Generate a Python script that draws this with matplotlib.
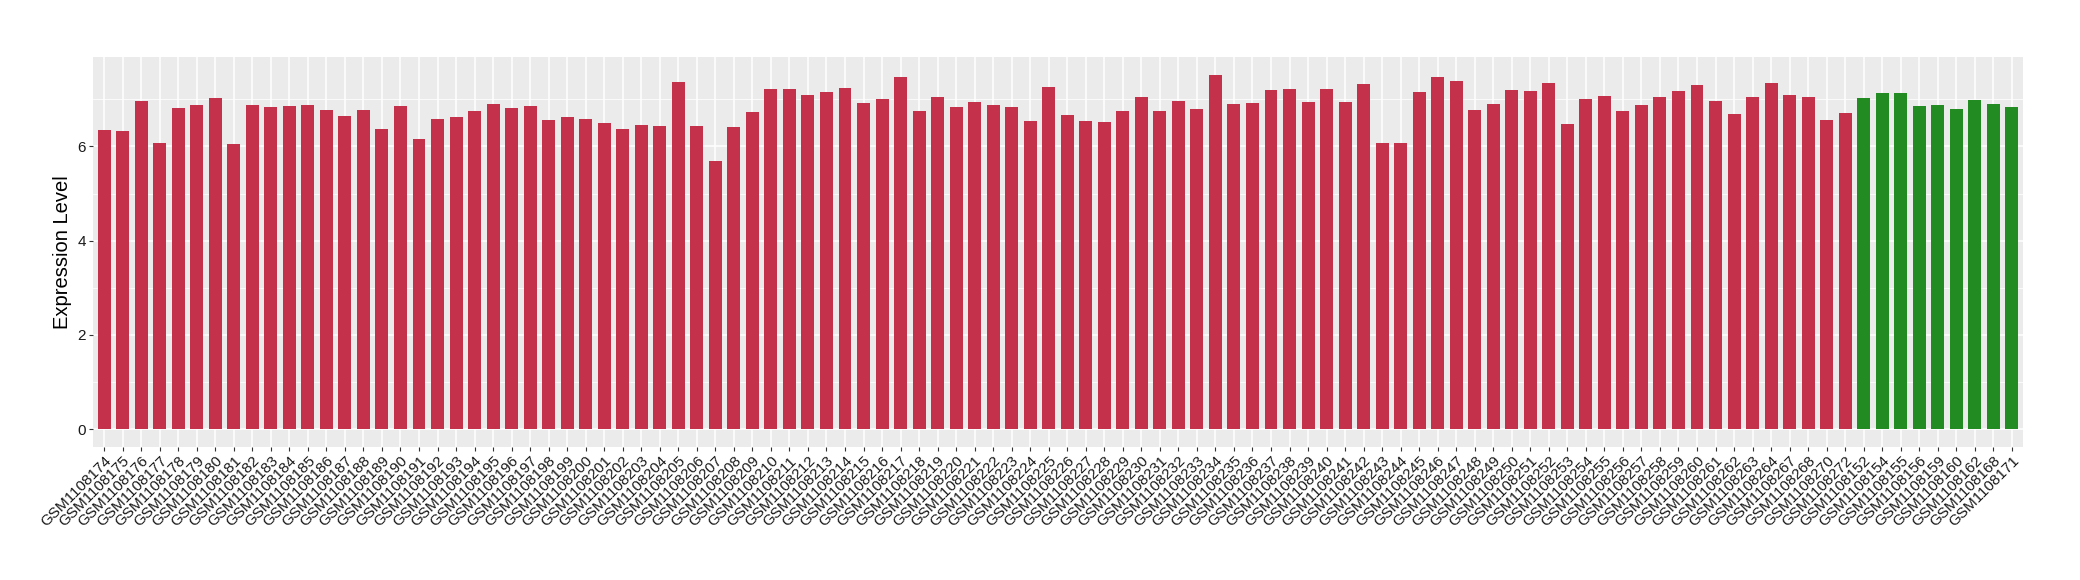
import matplotlib
matplotlib.use("Agg")
import matplotlib.pyplot as plt
import numpy as np

plt.rcParams['font.family'] = ['Liberation Sans', 'DejaVu Sans']

red_samples = [f"GSM1108{n}" for n in list(range(174, 265)) + [267, 268, 270, 272]]
green_samples = ["GSM1108152", "GSM1108154", "GSM1108155", "GSM1108156", "GSM1108159",
                 "GSM1108160", "GSM1108162", "GSM1108168", "GSM1108171"]

red_values = [
    6.35, 6.33, 6.97, 6.08, 6.82, 6.88, 7.03, 6.06, 6.88, 6.84,
    6.86, 6.88, 6.78, 6.65, 6.78, 6.37, 6.86, 6.16, 6.59, 6.63,
    6.76, 6.90, 6.82, 6.86, 6.56, 6.63, 6.59, 6.50, 6.37, 6.46,
    6.44, 7.37, 6.44, 5.68, 6.42, 6.73, 7.22, 7.22, 7.09, 7.16,
    7.24, 6.92, 7.01, 7.48, 6.76, 7.05, 6.84, 6.95, 6.88, 6.84,
    6.54, 7.26, 6.67, 6.54, 6.52, 6.76, 7.05, 6.76, 6.97, 6.80,
    7.52, 6.90, 6.92, 7.20, 7.22, 6.95, 7.22, 6.95, 7.33, 6.08,
    6.08, 7.16, 7.48, 7.39, 6.78, 6.90, 7.20, 7.18, 7.35, 6.48,
    7.01, 7.07, 6.76, 6.88, 7.05, 7.18, 7.31, 6.97, 6.69, 7.05,
    7.35, 7.09, 7.05, 6.56, 6.71,
]
green_values = [7.03, 7.14, 7.14, 6.86, 6.88, 6.80, 6.99, 6.90, 6.84]

RED = "#C3314A"
GREEN = "#228B22"

samples = red_samples + green_samples
values = red_values + green_values
colors = [RED] * len(red_values) + [GREEN] * len(green_values)

fig = plt.figure(figsize=(20.8, 5.8), dpi=100)
ax = fig.add_axes([93 / 2080, 1 - 447 / 580, (2023 - 93) / 2080, (447 - 57) / 580])

x = np.arange(len(samples))
ax.set_facecolor("#EBEBEB")
ax.bar(x, values, width=0.7, color=colors, zorder=3)

ymax = max(values)
ax.set_xlim(-0.6, len(samples) - 0.4)
ax.set_ylim(-0.05 * ymax, ymax * 1.05)

ax.set_yticks([0, 2, 4, 6])
ax.set_yticks([1, 3, 5, 7], minor=True)
ax.set_xticks(x)
ax.set_xticklabels(samples, rotation=45, ha='right', va='top', rotation_mode='anchor',
                   fontsize=11, color='#1a1a1a')
for lab in ax.get_yticklabels():
    lab.set_fontsize(11)
    lab.set_color('#1a1a1a')

ax.grid(True, which='major', color='white', linewidth=1.1, zorder=0)
ax.grid(True, which='minor', axis='y', color='white', linewidth=0.55, zorder=0)
ax.set_axisbelow(True)
ax.tick_params(axis='both', which='major', length=3, width=0.8, color='#333333', pad=2)
ax.tick_params(axis='y', which='minor', length=0)
for s in ax.spines.values():
    s.set_visible(False)

ax.set_ylabel("Expression Level", fontsize=14.5, labelpad=4)

fig.savefig("out.png", dpi=100)
